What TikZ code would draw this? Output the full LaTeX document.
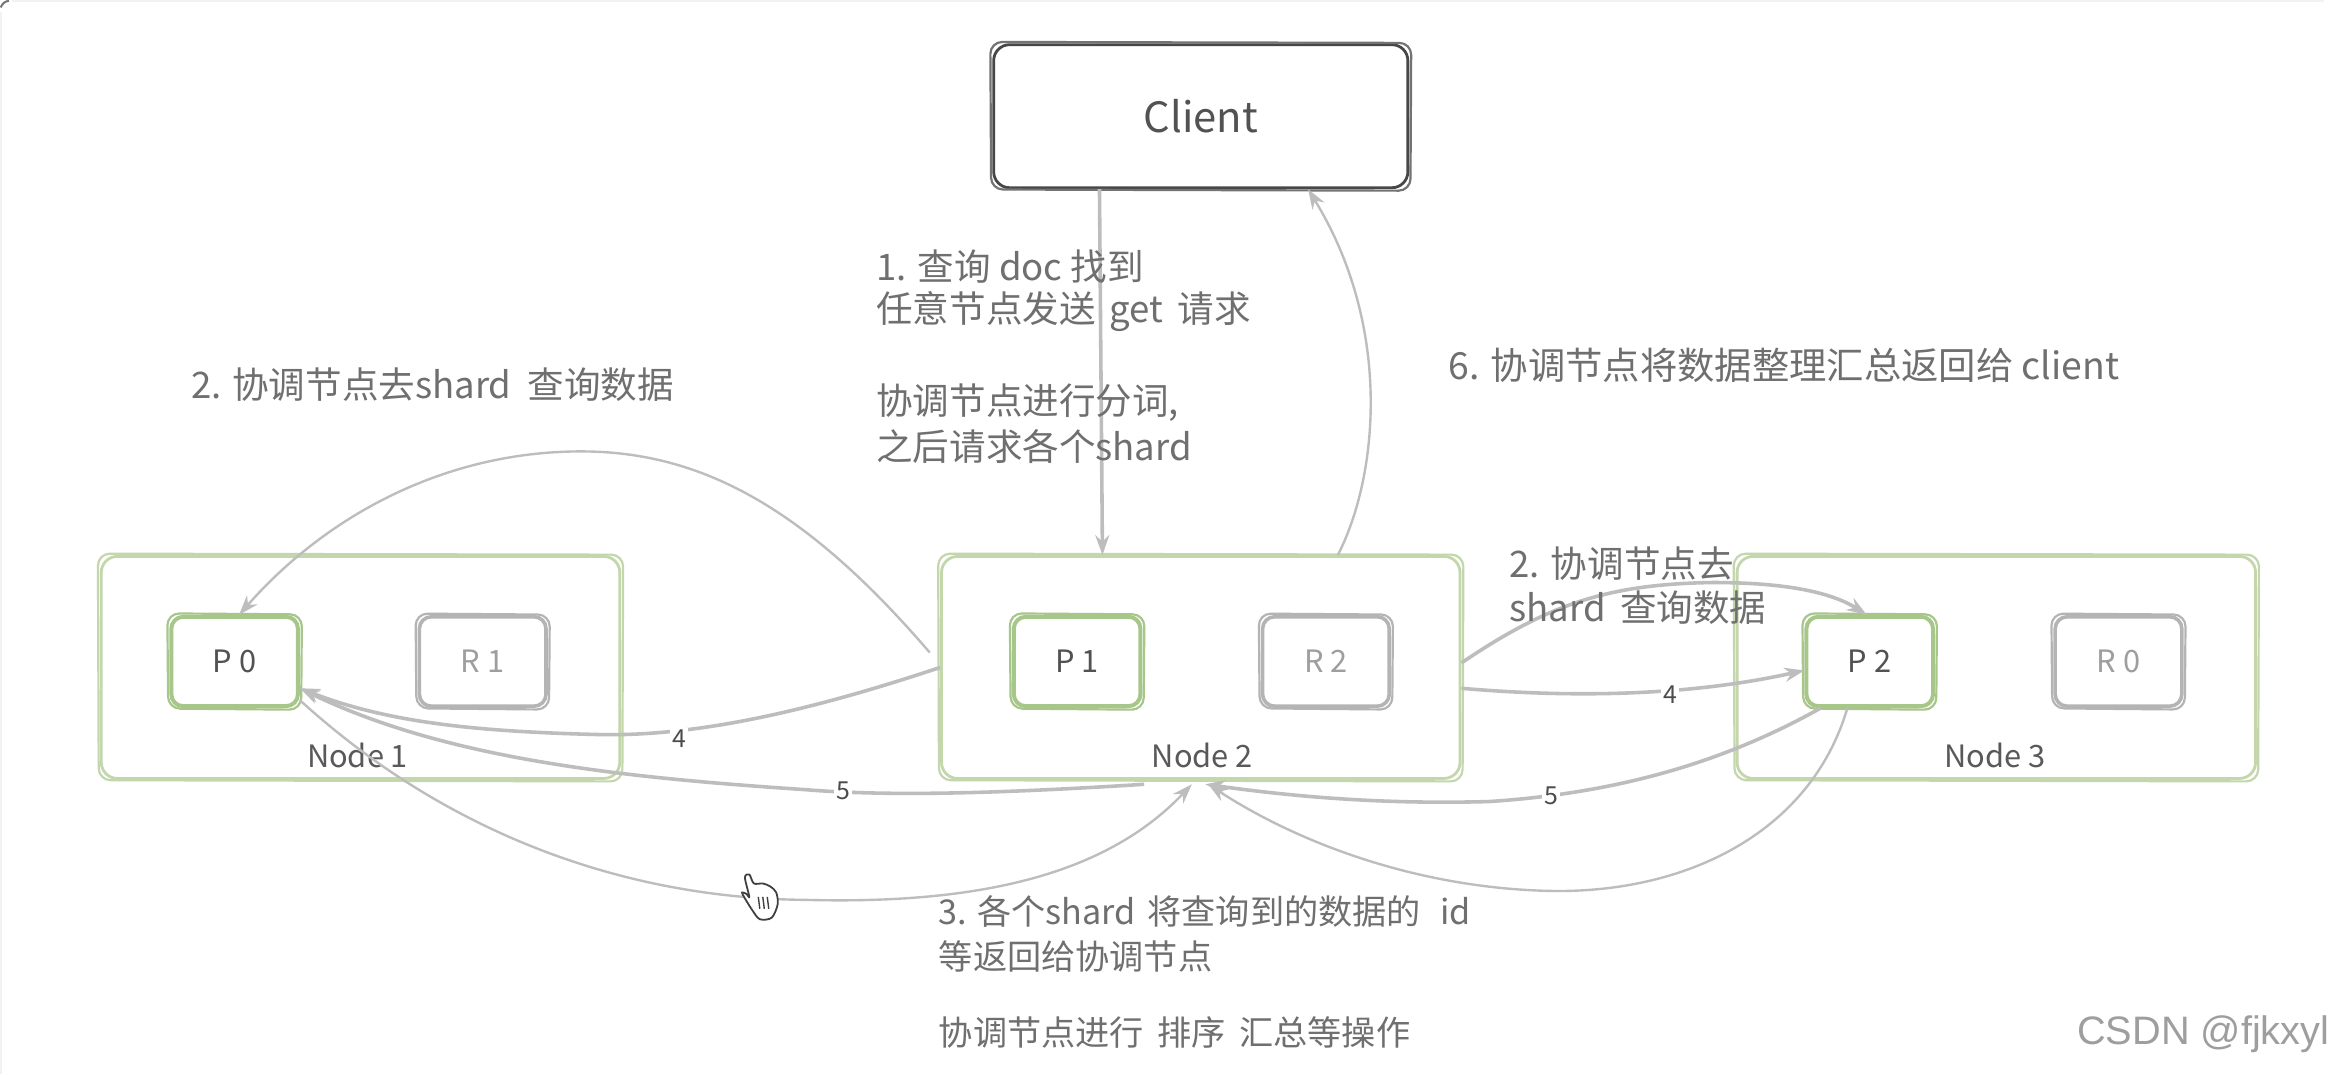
\documentclass[tikz,border=0pt]{standalone}
\usepackage{fontspec}
\setmainfont{Noto Sans CJK SC}
\newfontfamily\wmfont{Liberation Sans}
\usetikzlibrary{arrows.meta}
\def\pxu{0.75pt}
\definecolor{boxgreen}{HTML}{C3D6AC}
\definecolor{pgreen}{HTML}{A6C68A}
\definecolor{rgrey}{HTML}{B4B4B4}
\definecolor{linegrey}{HTML}{BDBDBD}
\definecolor{txtgrey}{HTML}{6F6F6F}
\newcommand{\wobble}[2]{%
  \draw[#2, line width=1.1pt, rounded corners=6pt]
    ([shift={(-1pt,0.7pt)}]#1.north west) -- ([shift={(1pt,0.2pt)}]#1.north east) --
    ([shift={(0.6pt,-0.8pt)}]#1.south east) -- ([shift={(-0.6pt,-0.2pt)}]#1.south west) -- cycle;}
\tikzset{
  sketchbase/.style={rectangle, rounded corners=8pt, inner sep=0pt},
  clientbox/.style={sketchbase, draw=black!72, line width=1.4pt, minimum width=278*\pxu, minimum height=96*\pxu, font=\fontsize{21}{21}\selectfont, text=black!68},
  nodebox/.style={sketchbase, draw=boxgreen, line width=1.4pt, minimum width=348*\pxu, minimum height=149*\pxu},
  pbox/.style={sketchbase, rounded corners=6pt, draw=pgreen, line width=2pt, minimum width=85*\pxu, minimum height=60*\pxu, font=\fontsize{15.5}{15.5}\selectfont, text=black!68},
  rbox/.style={sketchbase, rounded corners=6pt, draw=rgrey, line width=1.8pt, minimum width=85*\pxu, minimum height=60*\pxu, font=\fontsize{15.5}{15.5}\selectfont, text=black!38},
  txt/.style={anchor=west, inner sep=0pt, text=txtgrey, font=\fontsize{18.4}{18.4}\selectfont},
  txtlow/.style={txt, font=\fontsize{17.2}{17.2}\selectfont},
  nlabel/.style={inner sep=0pt, text=black!65, font=\fontsize{15.5}{15.5}\selectfont},
  numlabel/.style={inner sep=1pt, fill=white, text=black!70, font=\fontsize{12.5}{12.5}\selectfont},
  conn/.style={draw=linegrey, line width=1.2pt, -{Stealth[length=10pt,width=7pt,fill=linegrey]}},
  connb/.style={conn, line width=1.8pt},
}
\begin{document}
\begin{tikzpicture}[x=0.75pt,y=-0.75pt]
\useasboundingbox (0,0) rectangle (1568,721);
\fill[white] (0,0) rectangle (1568,721);
\draw[black!5, line width=1pt] (1,721) -- (1,8) (8,1) -- (1560,1);
\draw[black!55, line width=1pt] (0.5,5) .. controls (1.5,2.5) and (3,1) .. (6,0.5);

% boxes
\node[nodebox] (n1) at (242,448) {};
\node[nodebox] (n2) at (806,448) {};
\node[nodebox] (n3) at (1340,448) {};
\wobble{n1}{boxgreen}
\wobble{n2}{boxgreen}
\wobble{n3}{boxgreen}
\node[clientbox] (client) at (806,78) {\raisebox{-2pt}{Client}};
\wobble{client}{black!55}
\node[pbox] (p0) at (157.5,444) {P 0};
\node[rbox] (r1) at (324,444) {R 1};
\node[pbox] (p1) at (723,444) {P 1};
\node[rbox] (r2) at (890,444) {R 2};
\node[pbox] (p2) at (1255,444) {P 2};
\node[rbox] (r0) at (1422,444) {R 0};
\wobble{p0}{pgreen}
\wobble{r1}{rgrey}
\wobble{p1}{pgreen}
\wobble{r2}{rgrey}
\wobble{p2}{pgreen}
\wobble{r0}{rgrey}

\node[nlabel] (l1) at (240,507) {Node 1};
\node[nlabel] (l2) at (807,507) {Node 2};
\node[nlabel] (l3) at (1339,507) {Node 3};

% connectors
\draw[connb] ([xshift=-68*\pxu]client.south) -- ([xshift=-66*\pxu]n2.north);
\draw[conn] ([xshift=92*\pxu]n2.north) .. controls (925,320) and (935,220) .. ([xshift=72*\pxu]client.south);
\draw[conn] ([xshift=-7*\pxu,yshift=10*\pxu]n2.west) .. controls (540,340) and (470,303) .. (390,303) .. controls (300,303) and (220,345) .. ([xshift=3*\pxu]p0.north);
\draw[connb] ([yshift=0*\pxu]n2.west) .. controls (550,475) and (470,495) .. (400,493) .. controls (320,491) and (260,485) .. ([yshift=-18*\pxu]p0.east);
\draw[connb] ([xshift=-38*\pxu,yshift=-3*\pxu]n2.south) .. controls (680,532) and (600,535) .. (540,530) .. controls (420,522) and (300,510) .. ([yshift=-18*\pxu]p0.east);
\draw[conn] ([yshift=-26*\pxu]p0.east) .. controls (300,560) and (420,603) .. (540,604) .. controls (650,607) and (740,590) .. ([xshift=-6*\pxu,yshift=-3*\pxu]n2.south);
\draw[connb] ([xshift=-33*\pxu]p2.south) .. controls (1160,510) and (1090,532) .. (1000,538) .. controls (930,540) and (870,535) .. ([xshift=3*\pxu,yshift=-3*\pxu]n2.south);
\draw[conn] ([xshift=-15*\pxu]p2.south) .. controls (1215,560) and (1130,600) .. (1040,598) .. controls (950,596) and (870,565) .. ([xshift=5*\pxu,yshift=-3*\pxu]n2.south);
\draw[connb] ([yshift=3*\pxu]n2.east) .. controls (1040,405) and (1080,392) .. (1150,391) .. controls (1200,391) and (1230,398) .. ([xshift=-2*\pxu]p2.north);
\draw[connb] ([yshift=-14*\pxu]n2.east) .. controls (1050,468) and (1130,468) .. ([yshift=-6*\pxu]p2.west);

% number labels
\node[numlabel] (a4) at (456,496) {4};
\node[numlabel] (a5) at (566,531) {5};
\node[numlabel] (b4) at (1121,466) {4};
\node[numlabel] (b5) at (1041,534) {5};

% texts
\node[txt] (t1) at (588,179) {1. 查询 doc 找到};
\node[txt] (t2) at (588,209) {任意节点发送\hspace{3pt} get\hspace{3pt} 请求};
\node[txt] (t3) at (588,270) {协调节点进行分词,};
\node[txt] (t4) at (588,300) {之后请求各个shard};
\node[txt] (t5) at (128,258) {2. 协调节点去shard\hspace{4pt} 查询数据};
\node[txt, font=\fontsize{18.8}{18.8}\selectfont] (t6) at (972,245) {6. 协调节点将数据整理汇总返回给 client};
\node[txt] (t7) at (1013,378) {2. 协调节点去};
\node[txt] (t8) at (1013,408) {shard\hspace{3pt} 查询数据};
\node[txtlow] (t9) at (630,612) {3. 各个shard\hspace{2pt} 将查询到的数据的\hspace{6pt} id};
\node[txtlow] (t10) at (630,642) {等返回给协调节点};
\node[txtlow] (t11) at (630,693) {协调节点进行\hspace{3pt} 排序\hspace{3pt} 汇总等操作};
\node[anchor=west, inner sep=0pt, text=black!38, font=\wmfont\fontsize{20}{20}\selectfont] (wm) at (1394,694) {CSDN @fjkxyl};

% hand cursor
\draw[black!75, fill=white, line width=0.9pt, line join=round]
  plot[smooth cycle, tension=0.5] coordinates {(500,589) (503,587) (506,593) (512,593) (517,595) (521,599) (522,607) (518,616) (510,617) (505,611) (500,603) (498,599) (501,600) (503,602)};
\draw[black!75, line width=0.7pt] (509,602) -- (510,610) (512,602) -- (513,610) (515,602) -- (516,610);
\end{tikzpicture}
\end{document}
